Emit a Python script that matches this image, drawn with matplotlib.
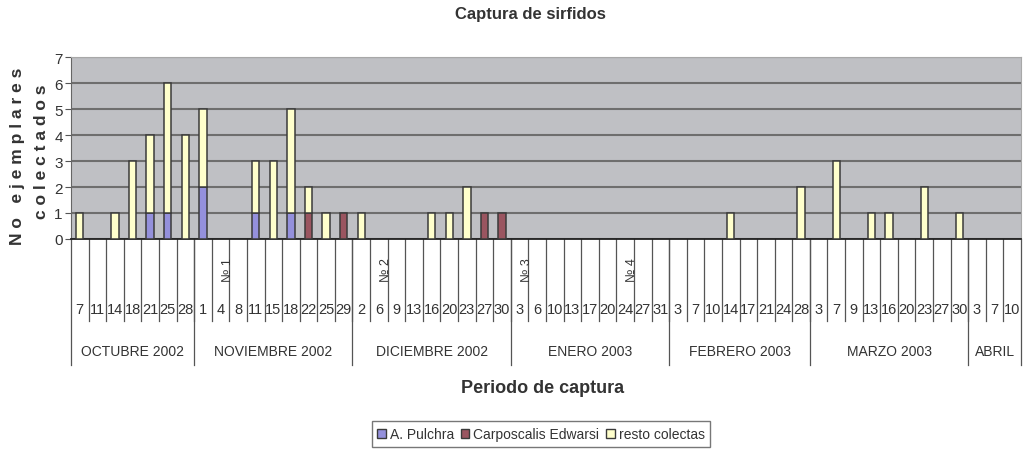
import matplotlib
matplotlib.use('Agg')
import matplotlib.pyplot as plt
import matplotlib.transforms as mtransforms
from matplotlib.patches import Patch
import numpy as np

plt.rcParams['font.family'] = ['Liberation Sans Narrow', 'Liberation Sans', 'DejaVu Sans']

# Data
months = ['OCTUBRE 2002', 'NOVIEMBRE 2002', 'DICIEMBRE 2002', 'ENERO 2003',
          'FEBRERO 2003', 'MARZO 2003', 'ABRIL']
days = [
    [7, 11, 14, 18, 21, 25, 28],
    [1, 4, 8, 11, 15, 18, 22, 25, 29],
    [2, 6, 9, 13, 16, 20, 23, 27, 30],
    [3, 6, 10, 13, 17, 20, 24, 27, 31],
    [3, 7, 10, 14, 17, 21, 24, 28],
    [3, 7, 9, 13, 16, 20, 23, 27, 30],
    [3, 7, 10],
]
# markers written above some dates: (month index, day, text)
markers = [(1, 4, '№ 1'), (2, 6, '№ 2'), (3, 3, '№ 3'), (3, 24, '№ 4')]

pulchra = [0, 0, 0, 0, 1, 1, 0,
           2, 0, 0, 1, 0, 1, 0, 0, 0,
           0, 0, 0, 0, 0, 0, 0, 0, 0,
           0, 0, 0, 0, 0, 0, 0, 0, 0,
           0, 0, 0, 0, 0, 0, 0, 0,
           0, 0, 0, 0, 0, 0, 0, 0, 0,
           0, 0, 0]
edwarsi = [0, 0, 0, 0, 0, 0, 0,
           0, 0, 0, 0, 0, 0, 1, 0, 1,
           0, 0, 0, 0, 0, 0, 0, 1, 1,
           0, 0, 0, 0, 0, 0, 0, 0, 0,
           0, 0, 0, 0, 0, 0, 0, 0,
           0, 0, 0, 0, 0, 0, 0, 0, 0,
           0, 0, 0]
resto = [1, 0, 1, 3, 3, 5, 4,
         3, 0, 0, 2, 3, 4, 1, 1, 0,
         1, 0, 0, 0, 1, 1, 2, 0, 0,
         0, 0, 0, 0, 0, 0, 0, 0, 0,
         0, 0, 0, 1, 0, 0, 0, 2,
         0, 3, 0, 1, 1, 0, 2, 0, 1,
         0, 0, 0]

c_blue = '#9490DC'
c_red = '#9A5560'
c_yellow = '#FFFFCC'
c_edge = '#3A3A3A'

fig = plt.figure(figsize=(10.25, 4.56), dpi=100)
fig.patch.set_facecolor('white')
W, H = 1025, 456
ax = fig.add_axes([71 / W, (H - 240) / H, 950 / W, 182 / H])
ax.set_facecolor('#BFC0C4')

n = sum(len(d) for d in days)
x = np.arange(n)
p = np.array(pulchra)
e = np.array(edwarsi)
r = np.array(resto)
bw = 0.42

# only draw segments that have a value, like the original chart
def stack(vals, bottom, color):
    m = vals > 0
    ax.bar(x[m], vals[m], bw, bottom=bottom[m], color=color, edgecolor=c_edge,
           linewidth=1.1, zorder=3)

zero = np.zeros(n)
stack(p, zero, c_blue)
stack(e, p, c_red)
stack(r, p + e, c_yellow)

ax.set_xlim(-0.5, n - 0.5)
ax.set_ylim(0, 7)
ax.set_yticks(range(8))
ax.set_yticklabels([str(i) for i in range(8)], fontsize=11, color='#333333')
ax.tick_params(axis='y', length=4, color='#555555', pad=2)
ax.set_xticks([])
ax.yaxis.grid(True, color='#6E6E6E', linewidth=1.5, zorder=1)
ax.set_axisbelow(True)
for s in ['top', 'right']:
    ax.spines[s].set_color('#A8A8A8')
ax.spines['left'].set_color('#666666')
ax.spines['bottom'].set_color('#222222')
ax.spines['bottom'].set_linewidth(1.3)

# category axis drawn below the plot
trans = mtransforms.blended_transform_factory(ax.transData, fig.transFigure)
def fy(py):
    return (H - py) / H

i = 0
bounds = [-0.5]
for mi, dlist in enumerate(days):
    start = i
    for d in dlist:
        ax.text(i, fy(310), str(d), transform=trans, ha='center', va='center',
                fontsize=10.5, color='#333333')
        for (mm, dd, lab) in markers:
            if mm == mi and dd == d:
                ax.text(i + 0.4, fy(270), lab, transform=trans, ha='center', va='center',
                        rotation=90, fontsize=9, color='#333333')
        i += 1
        if i < n:
            ax.plot([i - 0.5, i - 0.5], [fy(240), fy(322)], transform=trans,
                    color='#555555', linewidth=0.9, clip_on=False)
    ax.text((start + i - 1) / 2, fy(352), months[mi], transform=trans, ha='center',
            va='center', fontsize=10, color='#333333')
    bounds.append(i - 0.5)
for b in bounds:
    ax.plot([b, b], [fy(240), fy(366)], transform=trans, color='#555555',
            linewidth=0.9, clip_on=False)

fig.text(530 / W, fy(14), 'Captura de sirfidos', ha='center', va='center',
         fontsize=12, fontweight='bold', color='#333333')
fig.text(543 / W, fy(389), 'Periodo de captura', ha='center', va='center',
         fontsize=13, fontweight='bold', color='#333333')
fig.text(18 / W, fy(156), 'N o   e j e m p l a r e s', ha='center', va='center',
         rotation=90, fontsize=12.5, fontweight='bold', color='#333333')
fig.text(42 / W, fy(152), 'c o l e c t a d o s', ha='center', va='center',
         rotation=90, fontsize=12.5, fontweight='bold', color='#333333')

handles = [Patch(facecolor=c_blue, edgecolor=c_edge, label='A. Pulchra'),
           Patch(facecolor=c_red, edgecolor=c_edge, label='Carposcalis Edwarsi'),
           Patch(facecolor=c_yellow, edgecolor=c_edge, label='resto colectas')]
leg = fig.legend(handles=handles, loc='center', bbox_to_anchor=(541 / W, fy(435)),
                 ncol=3, fontsize=10, frameon=True, fancybox=False,
                 handlelength=0.6, handleheight=0.6, handletextpad=0.3,
                 columnspacing=0.5, borderpad=0.4)
leg.get_frame().set_edgecolor('#555555')
leg.get_frame().set_linewidth(1.0)
for t in leg.get_texts():
    t.set_color('#333333')

fig.savefig('out.png', dpi=100)
